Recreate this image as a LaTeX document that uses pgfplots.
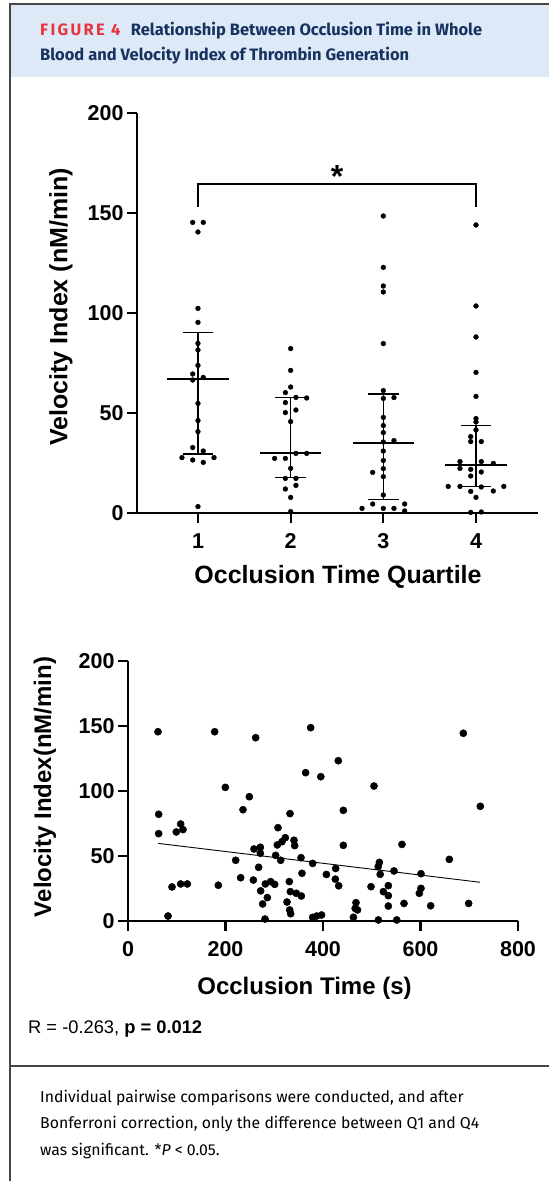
\documentclass[border=0pt]{standalone}
\usepackage{fontspec}
\setmainfont{Liberation Sans}
\newfontfamily\fira{Fira Sans}
\usepackage{pgfplots}
\pgfplotsset{compat=1.18}
\definecolor{hdrblue}{RGB}{221,233,246}
\definecolor{hdrnavy}{RGB}{24,50,96}
\definecolor{hdrred}{RGB}{232,52,62}
\definecolor{framegray}{RGB}{70,70,70}

\pgfplotsset{
  prism/.style={
    scale only axis, anchor=south west, clip=false,
    axis x line*=bottom, axis y line*=left,
    axis line style={line width=2.7pt,-},
    tick align=outside, major tick length=10pt,
    tick style={line width=2.2pt,black},
    tick label style={font=\bfseries\fontsize{21.5}{21.5}\selectfont},
    xticklabel style={yshift=-7pt},
    /pgf/number format/assume math mode=true,
  },
}

\begin{document}
\begin{tikzpicture}[x=1pt,y=1pt]
\path[use as bounding box] (0,0) rectangle (549,1181);

% frame and header band
\fill[hdrblue] (10,1177) rectangle (549,1104);
\draw[framegray, line width=1.2pt] (10,0) -- (10,1177) -- (549,1177);
\draw[framegray, line width=1.2pt] (10,115) -- (549,115);

\node[anchor=base west, inner sep=0, text=hdrred, font=\fira\bfseries\fontsize{16.5}{16.5}\selectfont]
  at (40,1145) {\addfontfeature{LetterSpace=14}FIGURE 4};
\node[anchor=base west, inner sep=0, text=hdrnavy, font=\fira\bfseries\fontsize{16.5}{16.5}\selectfont]
  at (130.7,1145) {Relationship Between Occlusion Time in Whole};
\node[anchor=base west, inner sep=0, text=hdrnavy, font=\fira\bfseries\fontsize{16.5}{16.5}\selectfont]
  at (40,1120) {Blood and Velocity Index of Thrombin Generation};

% ---- top panel: quartiles ----
\begin{axis}[prism, at={(137pt,668pt)}, width=401pt, height=400pt,
  xmin=0.342, xmax=4.669, ymin=0, ymax=200,
  xtick={1,2,3,4}, ytick={0,50,100,150,200}]
\addplot[only marks, mark=*, mark size=2.4pt, black] coordinates {
(0.943,145.3) (1.057,145.3) (1,140.5) (1,102.3) (1,95.3) (1,84.8) (1,81.5) (1,73.8)
(0.943,69.5) (1.057,67.8) (0.943,66.5) (1,54.8) (1,46.2) (1,40.7) (0.943,32.7) (1.057,31)
(0.827,27.7) (1.173,27.7) (0.943,26.5) (1.057,25.3) (1,3.2)
(2,82.2) (2,71.3) (2,63) (1.943,60.2) (2.057,57.8) (2.173,57.5) (1.943,55.2) (2.057,51.5)
(1.943,50.2) (2,45.7) (2.057,29.8) (2.173,29.8) (1.827,27.3) (1.943,27.3) (2,22.3)
(1.943,17.3) (2.057,17.3) (2.057,13.8) (1.943,12) (2,7.8) (2,0.7)
(3,148.5) (3,122.8) (3,113.5) (3,110.5) (3,84.7) (3,61.2) (3.115,57.7) (3,57.3) (3,47.8)
(3,43.7) (3,40.2) (3.115,36.2) (3,35.5) (3,31) (3,26.3) (2.885,20.3) (3,22.2) (3,18.2)
(3,9) (2.885,4.5) (3.23,4.5) (2.77,2.3) (3,2.3) (3.115,2.3) (3.23,1)
(4,144) (4,103.5) (4,88) (4,70.3) (4,58.3) (4,47.2) (4,45.5) (4,41.5) (3.943,38.2)
(3.943,35.7) (4.057,35.7) (3.827,25.7) (4.057,25.7) (4.187,24.8) (3.827,22.3) (3.943,21.8)
(4.057,20.5) (3.943,18.5) (3.7,13.3) (3.827,13.3) (4.057,13) (4.3,13.3) (3.943,10.8)
(4.187,11) (4,7.8) (3.943,0.3) (4.057,0.5)
};
% median lines
\addplot[black, line width=1.9pt, unbounded coords=jump] coordinates {
(0.67,67) (1.33,67) (nan,nan) (1.67,30) (2.33,30) (nan,nan)
(2.67,35) (3.33,35) (nan,nan) (3.67,24) (4.33,24)
};
% interquartile whiskers
\addplot[black, line width=1.1pt, unbounded coords=jump] coordinates {
(1,29.5) (1,90.2) (nan,nan) (2,17.7) (2,57.8) (nan,nan)
(3,6.8) (3,59.5) (nan,nan) (4,13.2) (4,43.8)
};
\addplot[black, line width=1.1pt, unbounded coords=jump] coordinates {
(0.833,90.2) (1.167,90.2) (nan,nan) (0.833,29.5) (1.167,29.5) (nan,nan)
(1.833,57.8) (2.167,57.8) (nan,nan) (1.833,17.7) (2.167,17.7) (nan,nan)
(2.833,59.5) (3.167,59.5) (nan,nan) (2.833,6.8) (3.167,6.8) (nan,nan)
(3.833,43.8) (4.167,43.8) (nan,nan) (3.833,13.2) (4.167,13.2)
};
% significance bracket
\addplot[black, line width=1.4pt] coordinates {(1,153) (1,164.5) (4,164.5) (4,153)};
\node[anchor=base, inner sep=0, font=\bfseries\fontsize{32}{32}\selectfont] at (axis cs:2.5,162.5) {*};
\end{axis}

\node[rotate=90, font=\bfseries\fontsize{25}{25}\selectfont] at (61,874) {Velocity Index (nM/min)};
\node[font=\bfseries\fontsize{25}{25}\selectfont] at (338,604) {Occlusion Time Quartile};

% ---- bottom panel: scatter ----
\begin{axis}[prism, at={(128pt,260pt)}, width=390pt, height=260pt,
  xmin=0, xmax=800, ymin=0, ymax=200,
  xtick={0,200,400,600,800}, ytick={0,50,100,150,200}]
\addplot[only marks, mark=*, mark size=3.6pt, black] coordinates {
(61.5,145.6) (177.8,145.6) (261.9,141) (374.7,148.7) (364.4,114.1) (395.5,111) (431.4,123.3)
(504.6,103.8) (441.7,85.1) (687.9,144.4) (722.7,88.2) (199.7,102.8) (248.9,95.6) (235.9,85.6)
(332.3,82.6) (62.9,82.1) (62.9,67.2) (108,74.6) (99.1,68.5) (112.8,70.3) (307.7,71.8)
(322.7,64.1) (315.9,61) (306.3,58.5) (340.5,62.1) (341.9,58) (258.5,55.4) (271.5,56.7)
(271.5,52.1) (302.9,50.5) (313.2,46.7) (354.9,48.7) (378.8,44.3) (220.9,46.7) (268,41.3)
(407,35.8) (356.9,36.7) (231.1,33.3) (257.1,31.5) (90.3,26.2) (108,28.5) (121.7,28.5)
(185.3,27.5) (281.7,28.5) (292.6,30.3) (300.9,28.2) (330.9,30.3) (333,22.6) (345.3,21.3)
(355.6,19.2) (272.1,23.2) (285.8,18) (276.2,13.1) (326.2,14.6) (331.6,8.5) (333.7,5.6)
(82.1,3.8) (281,1.5) (378.8,2.8) (387,3.8) (397,4.6) (441.7,58.2) (562,58.9) (659.1,47.4)
(426,40.4) (425.3,32.2) (432.2,27.1) (515.6,45.1) (513.2,41.8) (517.3,35.9) (545.6,38.5)
(601,36.4) (498.5,26.4) (534,27.2) (523.8,22.6) (534,19.5) (601,25.1) (597.6,21.3)
(566.2,13.5) (620.9,11.7) (698.8,13.5) (534,11.5) (467.7,14.1) (466,9.7) (470.8,8.5)
(462.4,2.9) (513.6,0.8) (551.2,0.8)
};
\addplot[black, line width=0.9pt] coordinates {(62,59.7) (722,29.8)};
\end{axis}

\node[rotate=90, font=\bfseries\fontsize{24}{24}\selectfont] at (45,394) {Velocity Index(nM/min)};
\node[font=\bfseries\fontsize{24}{24}\selectfont] at (304.5,193) {Occlusion Time (s)};

% statistics and footnote
\node[anchor=base west, inner sep=0, font=\fontsize{18.3}{18.3}\selectfont] at (28,147)
  {R = -0.263, \textbf{p = 0.012}};
\begin{scope}[every node/.style={anchor=base west, inner sep=0, font=\fira\fontsize{15.8}{15.8}\selectfont}]
\node at (40,78) {Individual pairwise comparisons were conducted, and after};
\node at (40,52) {Bonferroni correction, only the difference between Q1 and Q4};
\node at (40,25) {was significant. *\textit{P}~<~0.05.};
\end{scope}
\end{tikzpicture}
\end{document}
